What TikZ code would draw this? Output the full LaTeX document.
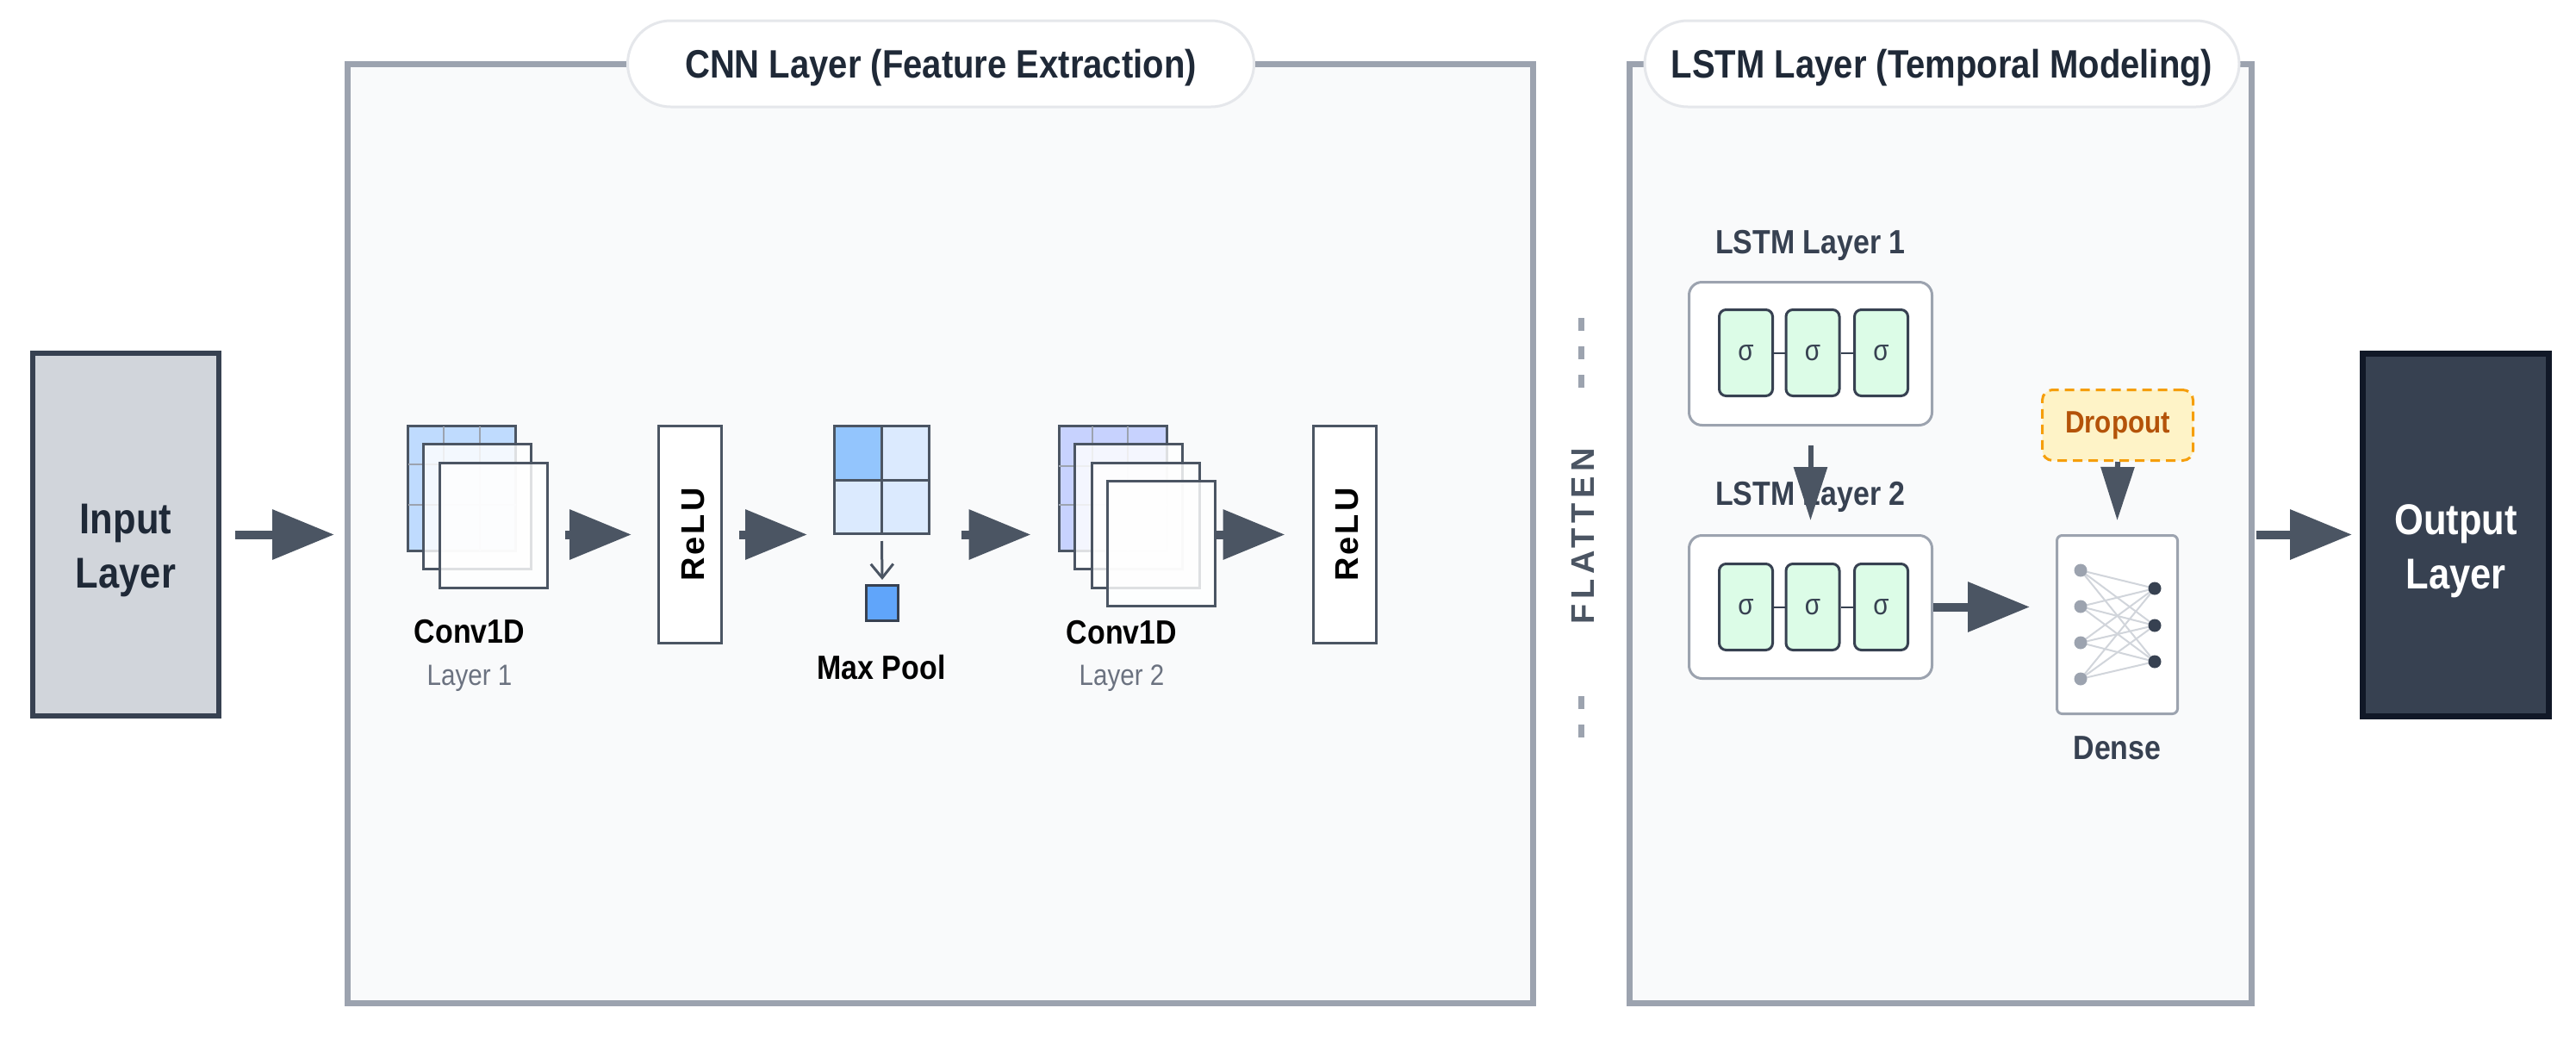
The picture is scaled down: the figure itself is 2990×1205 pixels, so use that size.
\documentclass[tikz,border=0pt]{standalone}
\usepackage{fontspec}
\setmainfont{Liberation Sans}[FakeStretch=0.87]
\newfontfamily\spacedfont{Liberation Sans}[LetterSpace=15]
\newfontfamily\relufont{Liberation Sans}[LetterSpace=8]
\usetikzlibrary{arrows.meta,calc}
\definecolor{ink}{HTML}{1F2937}
\definecolor{arr}{HTML}{4B5563}
\definecolor{panelb}{HTML}{9CA3AF}
\definecolor{panelf}{HTML}{F9FAFB}
\definecolor{inputf}{HTML}{D1D5DB}
\definecolor{darkb}{HTML}{374151}
\definecolor{outb}{HTML}{111827}
\definecolor{blueA}{HTML}{BFDBFE}
\definecolor{indA}{HTML}{C7D2FE}
\definecolor{poolA}{HTML}{93C5FD}
\definecolor{poolB}{HTML}{DBEAFE}
\definecolor{poolS}{HTML}{60A5FA}
\definecolor{cellf}{HTML}{DCFCE7}
\definecolor{dropb}{HTML}{F59E0B}
\definecolor{dropf}{HTML}{FEF3C7}
\definecolor{dropt}{HTML}{B45309}
\definecolor{subt}{HTML}{6B7280}
\definecolor{pillb}{HTML}{E5E7EB}
\definecolor{edgec}{HTML}{D1D5DB}
\definecolor{gridc}{HTML}{9CA3AF}
\newcommand\myfs[1]{\fontsize{#1}{#1}\selectfont}
\begin{document}
\begin{tikzpicture}[x=1pt,y=-1pt,
  panel/.style={draw=panelb, line width=7, fill=panelf, inner sep=0},
  pill/.style={draw=pillb, line width=3, fill=white, rounded corners=50, minimum height=100, inner sep=0},
  titletxt/.style={anchor=base, inner sep=0, text=ink, font=\bfseries\myfs{46}},
  bigtxt/.style={anchor=base, inner sep=0, font=\bfseries\myfs{50}},
  lab/.style={anchor=base, inner sep=0, text=black, font=\bfseries\myfs{39}},
  sublab/.style={anchor=base, inner sep=0, text=subt, font=\myfs{34}},
  sheet/.style={draw=arr, line width=3, minimum width=125, minimum height=145, inner sep=0},
  gridline/.style={draw=gridc, line width=2},
  relubox/.style={draw=arr, line width=3, fill=white, minimum width=73, minimum height=252, inner sep=0},
  relutxt/.style={rotate=90, anchor=base, inner sep=0, text=black, font=\relufont\bfseries\myfs{38}},
  bigarrow/.style={draw=arr, line width=10, -{Triangle[length=72pt,width=56pt]}},
  smallarrow/.style={draw=arr, line width=6, -{Triangle[length=62pt,width=38pt]}},
  thinarrow/.style={draw=arr, line width=3, -{Straight Barb[length=16pt,width=26pt,line width=3pt]}},
  lstmbox/.style={draw=panelb, line width=3, fill=white, rounded corners=15, minimum width=282, minimum height=166, inner sep=0},
  cell/.style={draw=darkb, line width=3, fill=cellf, rounded corners=8, minimum width=62, minimum height=100, inner sep=0, text=darkb, font=\myfs{34}},
  cellline/.style={draw=darkb, line width=2},
  dnode/.style={circle, minimum size=15, inner sep=0},
  dedge/.style={draw=edgec, line width=2},
  flatdash/.style={draw=panelb, line width=7, dash pattern=on 15pt off 18pt}
]
\useasboundingbox (0,0) rectangle (2990,1205);
\fill[white] (0,0) rectangle (2990,1205);

% panels
\node[panel, minimum width=1376, minimum height=1090] (cnn) at (1091.5,619) {};
\node[panel, minimum width=722, minimum height=1090] (lstm) at (2252.5,619) {};
\node[pill, minimum width=727] (cnnpill) at (1092,74) {};
\node[titletxt] (cnntitle) at (1092,90) {CNN Layer (Feature Extraction)};
\node[pill, minimum width=690] (lstmpill) at (2254,74) {};
\node[titletxt] (lstmtitle) at (2254,90) {LSTM Layer (Temporal Modeling)};

% input / output
\node[draw=darkb, line width=6, fill=inputf, minimum width=216, minimum height=421, inner sep=0] (input) at (146,620.5) {};
\node[bigtxt, text=ink] (inl1) at (146,619) {Input};
\node[bigtxt, text=ink] (inl2) at (146,682) {Layer};
\node[draw=outb, line width=7, fill=darkb, minimum width=216, minimum height=421, inner sep=0] (output) at (2850.5,620.5) {};
\node[bigtxt, text=white] (outl1) at (2850.5,620) {Output};
\node[bigtxt, text=white] (outl2) at (2850.5,683) {Layer};

% Conv1D layer 1
\node[sheet, fill=blueA] (c1a) at (536,567) {};
\draw[gridline] (514.7,494.5) -- (514.7,639.5);
\draw[gridline] (557.3,494.5) -- (557.3,639.5);
\draw[gridline] (473.5,539) -- (598.5,539);
\draw[gridline] (473.5,586) -- (598.5,586);
\node[sheet, fill=white, fill opacity=0.82] (c1b) at (554,588) {};
\node[sheet, fill=white, fill opacity=0.82] (c1c) at (573,609.5) {};
\node[lab] (c1lab) at (545,746) {Conv1D};
\node[sublab] (c1sub) at (545,795) {Layer 1};

% ReLU 1
\node[relubox] (relu1) at (801,620.5) {};
\node[relutxt] (relu1t) at (817,620.5) {ReLU};

% Max pool
\fill[poolA] (967,493) rectangle (1023.5,557);
\fill[poolB] (1023.5,493) rectangle (1080,557);
\fill[poolB] (967,557) rectangle (1080,621);
\draw[draw=arr, line width=3] (1023.5,493) -- (1023.5,621);
\draw[draw=arr, line width=3] (967,557) -- (1080,557);
\node[draw=arr, line width=3, minimum width=110, minimum height=125, inner sep=0] (pool) at (1023.5,557) {};
\node[draw=darkb, line width=3, fill=poolS, minimum width=37, minimum height=41, inner sep=0] (poolout) at (1024,700) {};
\draw[thinarrow] ($(pool.south)+(0,7)$) -- ($(poolout.north)+(0,-5)$);
\node[lab] (poollab) at (1023,788) {Max Pool};

% Conv1D layer 2
\node[sheet, fill=indA] (c2a) at (1291.5,567) {};
\draw[gridline] (1268,494.5) -- (1268,639.5);
\draw[gridline] (1309,494.5) -- (1309,639.5);
\draw[gridline] (1228.5,541) -- (1354.5,541);
\draw[gridline] (1228.5,586) -- (1354.5,586);
\node[sheet, fill=white, fill opacity=0.82] (c2b) at (1310,588) {};
\node[sheet, fill=white, fill opacity=0.82] (c2c) at (1329.5,609.5) {};
\node[sheet, fill=white, fill opacity=0.82] (c2d) at (1348,630.5) {};
\node[lab] (c2lab) at (1302,747) {Conv1D};
\node[sublab] (c2sub) at (1302,795) {Layer 2};

% ReLU 2
\node[relubox] (relu2) at (1560.5,620.5) {};
\node[relutxt] (relu2t) at (1576.5,620.5) {ReLU};

% CNN arrows
\draw[bigarrow] ($(input.east)+(16,0)$) -- ($(cnn.west |- input.east)+(-12,0)$);
\draw[bigarrow] ($(c1c.east |- relu1.west)+(19,0)$) -- ($(relu1.west)+(-30,0)$);
\draw[bigarrow] ($(relu1.east)+(19,0)$) -- ($(pool.west |- relu1.west)+(-30,0)$);
\draw[bigarrow] ($(pool.east |- relu1.east)+(36,0)$) -- ($(c2a.west |- relu1.east)+(-31,0)$);
\draw[bigarrow] ($(c2d.east |- relu2.west)+(-3,0)$) -- ($(relu2.west)+(-31,0)$);

% FLATTEN
\draw[flatdash] (1835,369) -- (1835,451);
\draw[flatdash] (1835,808) -- (1835,857);
\node[rotate=90, anchor=base, inner sep=0, text=arr, font=\spacedfont\bfseries\myfs{38}] (flat) at (1850,622) {FLATTEN};

% LSTM layers
\node[anchor=base, inner sep=0, text=darkb, font=\bfseries\myfs{39}] (l1lab) at (2101.5,294) {LSTM Layer 1};
\node[lstmbox] (lstm1) at (2101.5,410.5) {};
\node[cell] (l1a) at (2026.5,409.5) {σ};
\node[cell] (l1b) at (2104,409.5) {σ};
\node[cell] (l1c) at (2183.5,409.5) {σ};
\draw[cellline] (l1a) -- (l1b);
\draw[cellline] (l1b) -- (l1c);

\node[anchor=base, inner sep=0, text=darkb, font=\bfseries\myfs{39}] (l2lab) at (2101.5,586) {LSTM Layer 2};
\node[lstmbox] (lstm2) at (2101.5,704.5) {};
\node[cell] (l2a) at (2026.5,704.5) {σ};
\node[cell] (l2b) at (2104,704.5) {σ};
\node[cell] (l2c) at (2183.5,704.5) {σ};
\draw[cellline] (l2a) -- (l2b);
\draw[cellline] (l2b) -- (l2c);

\draw[smallarrow] ($(lstm1.south)+(0,22)$) -- ($(lstm2.north)+(0,-16)$);

% Dense
\node[draw=panelb, line width=3, fill=white, rounded corners=6, minimum width=140, minimum height=207, inner sep=0] (dense) at (2457.5,725) {};
\foreach \i/\y in {1/662,2/704,3/746,4/788} \node[dnode] (dl\i) at (2415,\y) {};
\foreach \j/\y in {1/683,2/726,3/768} \node[dnode] (dr\j) at (2501,\y) {};
\foreach \i in {1,2,3,4} \foreach \j in {1,2,3} \draw[dedge] (dl\i.center) -- (dr\j.center);
\foreach \i in {1,2,3,4} \fill[panelb] (dl\i) circle[radius=7.5];
\foreach \j in {1,2,3} \fill[darkb] (dr\j) circle[radius=7.5];
\node[anchor=base, inner sep=0, text=darkb, font=\bfseries\myfs{39}] (denselab) at (2457.5,881) {Dense};

% Dropout
\node[draw=dropb, line width=3, dash pattern=on 11pt off 7pt, fill=dropf, rounded corners=12, minimum width=175, minimum height=82, inner sep=0, text=dropt, font=\bfseries\myfs{36}] (dropout) at (2458,493.5) {Dropout};
\draw[smallarrow] (dropout.south) -- ($(dense.north)+(0,-16)$);

\draw[bigarrow] (lstm2.east) -- ($(dense.west |- lstm2.east)+(-30,0)$);
\draw[bigarrow] ($(lstm.east |- output.west)+(2,0)$) -- ($(output.west)+(-9,0)$);
\end{tikzpicture}
\end{document}
